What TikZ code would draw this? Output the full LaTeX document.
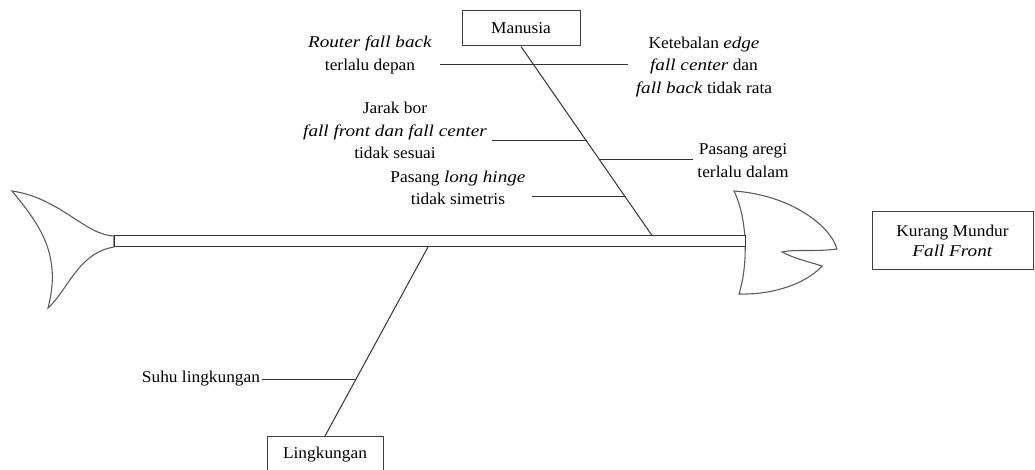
\documentclass[tikz,border=0pt]{standalone}
\usepackage{fontspec}
\setmainfont{Liberation Serif}[UprightFeatures={FakeStretch=1.05},ItalicFeatures={FakeStretch=1.16}]
\usetikzlibrary{calc}
\begin{document}
\begin{tikzpicture}[x=0.75pt,y=-0.75pt,line width=0.75pt,
  lbl/.style={font=\fontsize{12.4}{17}\selectfont,align=center,inner sep=0pt},
  box/.style={draw=black!75,fill=white,font=\fontsize{12.4}{15}\selectfont,align=center,inner sep=0pt},
  fishline/.style={draw=black!80,line width=0.75pt},
  bone/.style={draw=black!80,line width=0.75pt},
  outline/.style={draw=black!65,line width=0.8pt,fill=white}]
\clip (0,0) rectangle (1035,470);
\fill[white] (0,0) rectangle (1035,470);

% tail
\path[outline] (114,236) .. controls (85,235) and (60,198) .. (12,191)
  .. controls (40,225) and (62,255) .. (48,308)
  .. controls (68,290) and (78,253) .. (114,247) -- cycle;
% head
\path[outline] (734,191) .. controls (790,195) and (830,225) .. (837,249)
  .. controls (815,252) and (795,249) .. (782,252)
  .. controls (795,259) and (810,262) .. (822,266)
  .. controls (805,285) and (770,295) .. (739,294)
  .. controls (748,265) and (748,220) .. (734,191) -- cycle;
% spine
\coordinate (sL) at (114,235.5);
\coordinate (sR) at (745,247);
\path[fishline,fill=white] (sL) rectangle (sR);

% boxes
\node[box,minimum width=88.5pt,minimum height=26.25pt] (manusia) at (521,28.5) {Manusia};
\node[box,anchor=north,minimum width=87pt,text height=16.5pt,text depth=20pt] (lingk) at (325,436) {Lingkungan};
\node[box,minimum width=120.75pt,minimum height=43.5pt] (effect) at (952.5,241) {Kurang Mundur\\\textit{Fall Front}};

% main bones
\coordinate (mEnd) at (652,235.5);
\coordinate (lEnd) at (428,247);
\draw[bone] (manusia.south) -- (mEnd);
\draw[bone] (lingk.north) -- (lEnd);

% cause labels
\node[lbl] (router) at (370,55) {\textit{Router fall back}\\terlalu depan};
\node[lbl] (keteb) at (704,67) {Ketebalan \textit{edge}\\\textit{fall center} dan\\\textit{fall back} tidak rata};
\node[lbl] (jarak) at (395,130.5) {Jarak bor\\\textit{fall front dan fall center}\\tidak sesuai};
\node[lbl] (aregi) at (743,160.5) {Pasang aregi\\terlalu dalam};
\node[lbl] (hinge) at (458,188) {Pasang \textit{long hinge}\\tidak simetris};
\node[lbl] (suhu) at (201,379) {Suhu lingkungan};

% branch points
\coordinate (routerL) at (440,65);
\coordinate (routerR) at (628,65);
\coordinate (jarakL) at (492,141);
\coordinate (jarakB) at (587.3,141);
\coordinate (aregiB) at (600.4,160);
\coordinate (aregiR) at (693,160);
\coordinate (hingeL) at (532,197);
\coordinate (hingeB) at (625.9,197);
\coordinate (suhuL) at (262,379);
\coordinate (suhuB) at (356,379);

\draw[bone] (routerL) -- (routerR);
\draw[bone] (jarakL) -- (jarakB);
\draw[bone] (aregiB) -- (aregiR);
\draw[bone] (hingeL) -- (hingeB);
\draw[bone] (suhuL) -- (suhuB);
\end{tikzpicture}
\end{document}
